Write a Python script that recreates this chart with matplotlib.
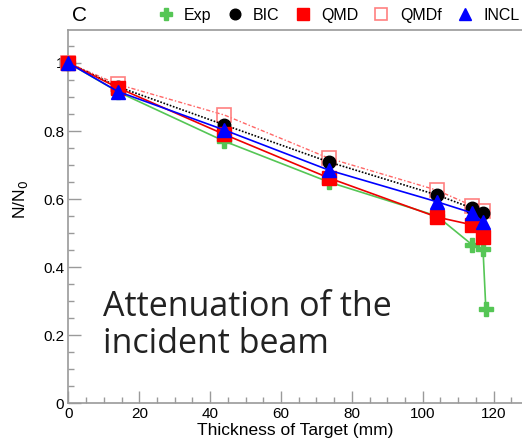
import matplotlib
matplotlib.use("Agg")
import matplotlib.pyplot as plt
from matplotlib.ticker import MultipleLocator, FixedLocator

# ---------------- DATA ----------------
thickness = [0, 14, 44, 73.5, 104, 114, 117]
thickness_exp = [0, 14, 44, 73.5, 104, 114, 117, 117.8]

exp_vals = [1.0, 0.915, 0.77, 0.65, 0.55, 0.465, 0.452, 0.277]
bic_vals = [1.0, 0.93, 0.818, 0.709, 0.612, 0.573, 0.559]
qmd_vals = [1.0, 0.927, 0.79, 0.662, 0.547, 0.524, 0.488]
qmdf_vals = [1.0, 0.937, 0.847, 0.72, 0.626, 0.58, 0.565]
incl_vals = [1.0, 0.916, 0.803, 0.685, 0.592, 0.559, 0.532]

y_ticks = [0, 0.2, 0.4, 0.6, 0.8, 1.0]
y_tick_labels = ["0", "0.2", "0.4", "0.6", "0.8", "1"]
x_ticks = [0, 20, 40, 60, 80, 100, 120]

# ---------------- FIGURE ----------------
plt.rcParams["font.family"] = ["Liberation Sans", "DejaVu Sans"]

fig = plt.figure(figsize=(5.22, 4.47), dpi=100)
ax = fig.add_axes([0.131, 0.098, 0.869, 0.835])

green = "#55c655"
ax.plot(thickness_exp, exp_vals, color=green, lw=1.2, marker="P", ms=10,
        mec=green, mfc=green, label="Exp", clip_on=False, zorder=3)
ax.plot(thickness, bic_vals, color="black", lw=1.2, ls=(0, (1, 1)), marker="o", ms=9,
        label="BIC", clip_on=False, zorder=4)
ax.plot(thickness, qmdf_vals, color="#ff6666", lw=1.0, ls=(0, (3, 1.5, 1, 1.5)), marker="s", ms=10,
        mfc="none", mec="#ff8080", mew=1.2, label="QMDf", clip_on=False, zorder=3.5)
ax.plot(thickness, qmd_vals, color="#ee0000", lw=1.2, marker="s", ms=10,
        mfc="#ff0000", mec="#ff0000", label="QMD", clip_on=False, zorder=5)
ax.plot(thickness, incl_vals, color="#0000ff", lw=1.2, marker="^", ms=10,
        mfc="#0000ff", mec="#0000ff", label="INCL", clip_on=False, zorder=6)

ax.set_xlim(0, 128)
ax.set_ylim(0, 1.097)

ax.xaxis.set_major_locator(FixedLocator(x_ticks))
ax.xaxis.set_minor_locator(MultipleLocator(5))
ax.yaxis.set_major_locator(FixedLocator(y_ticks))
ax.set_yticklabels(y_tick_labels)
ax.yaxis.set_minor_locator(MultipleLocator(0.05))

spine_col = "#9a9a9a"
for side in ["left", "bottom", "top"]:
    ax.spines[side].set_color(spine_col)
    ax.spines[side].set_linewidth(1.2)
ax.spines["right"].set_visible(False)

ax.tick_params(which="both", direction="in", color=spine_col, width=1.0,
               labelsize=11, top=False, right=False)
ax.tick_params(which="major", length=9, pad=3)
ax.tick_params(which="minor", length=4.5)

ax.set_xlabel("Thickness of Target (mm)", fontsize=12.5, labelpad=1)
ax.set_ylabel("N/N$_0$", fontsize=12.5, labelpad=2)
ax.yaxis.set_label_coords(-0.085, 0.545)

fig.text(0.137, 0.965, "C", fontsize=15, ha="left", va="center")

# legend across the top, ROOT style
handles, labels = ax.get_legend_handles_labels()
order = [0, 1, 3, 2, 4]
leg = ax.legend([handles[i] for i in order], [labels[i] for i in order],
                ncol=5, frameon=False, loc="center right", bbox_to_anchor=(0.995, 0.966),
                bbox_transform=fig.transFigure, fontsize=11.5, handlelength=0.9,
                handletextpad=0.7, columnspacing=1.0, borderaxespad=0, borderpad=0,
                markerscale=0.85)
for h in leg.legend_handles:
    h.set_linestyle("none")

# annotation
fig.text(103 / 522, 1 - 353 / 447, "Attenuation of the\nincident beam",
         family=["Open Sans", "DejaVu Sans"], fontsize=24.5, color="#222222",
         ha="left", va="baseline", linespacing=1.12)

fig.savefig("out.png", dpi=100)
